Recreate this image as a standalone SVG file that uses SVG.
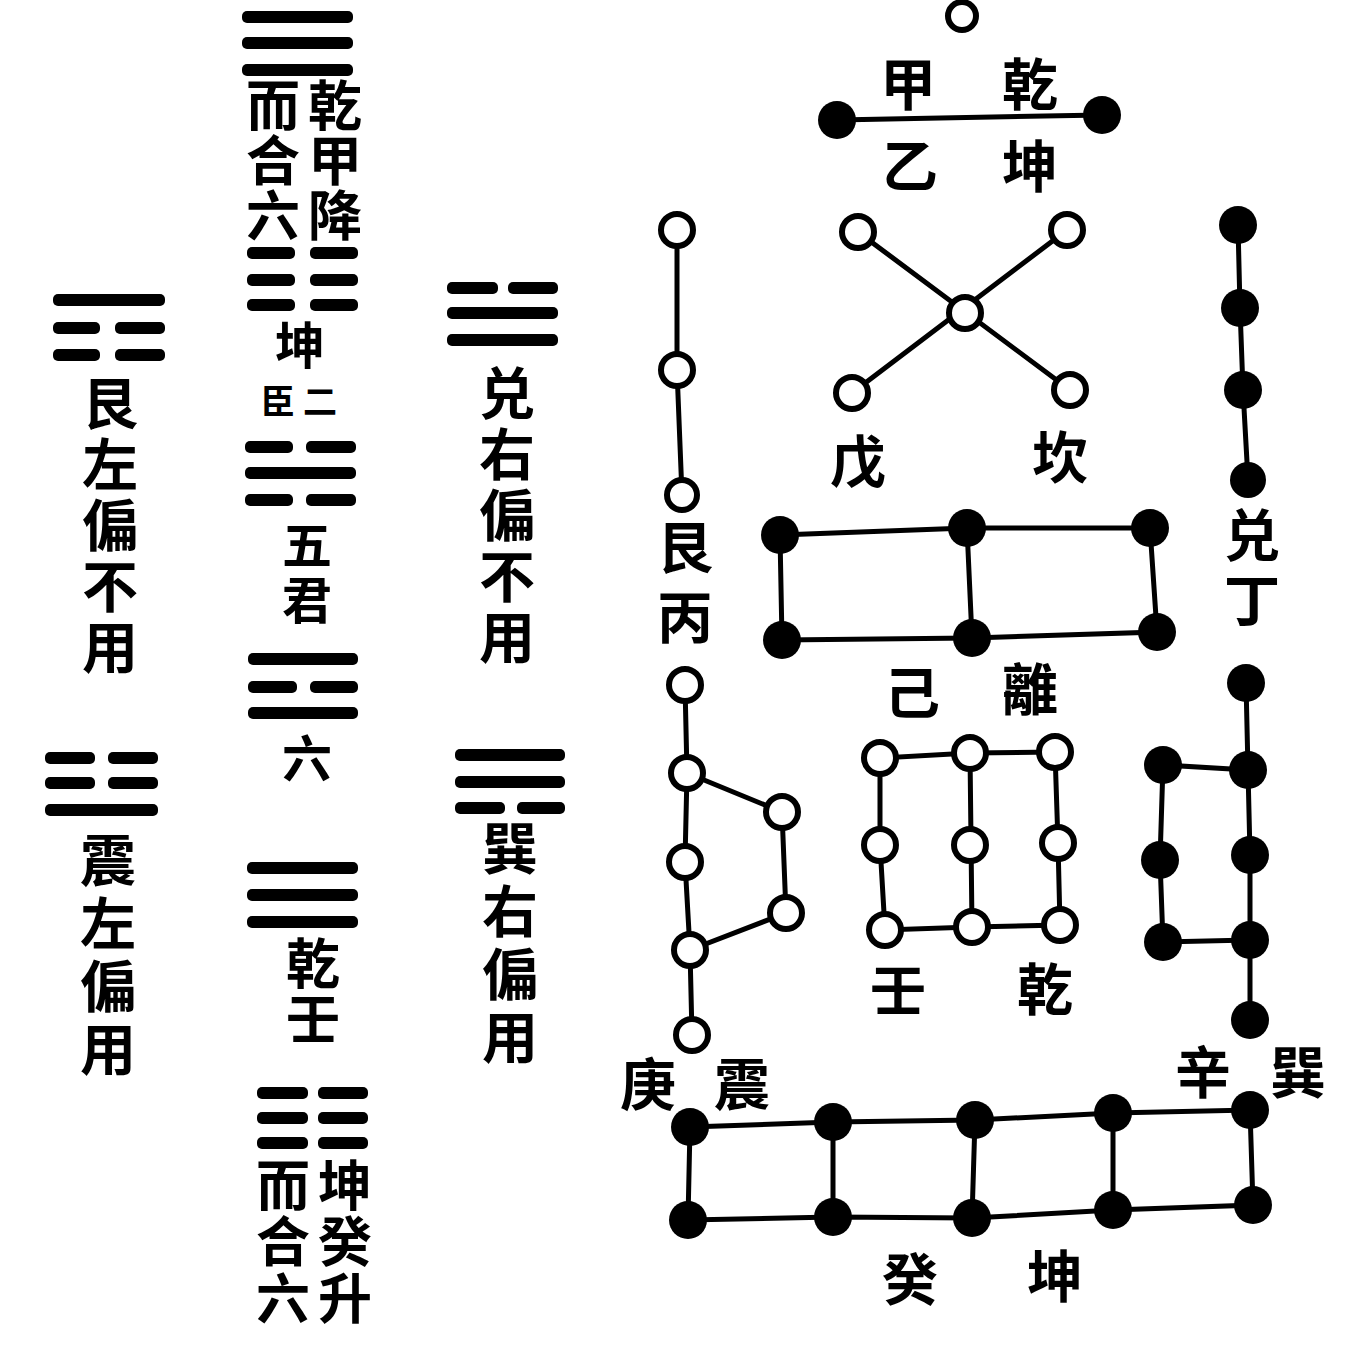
<svg xmlns="http://www.w3.org/2000/svg" width="1353" height="1368" viewBox="0 0 1353 1368">
<style>
.bg{fill:#fff}
.bar{fill:#000}
.edge{stroke:#000;stroke-width:5;fill:none;stroke-linecap:round}
.open{fill:#fff;stroke:#000;stroke-width:6}
.dot{fill:#000}
.t{font-family:"Noto Sans CJK TC","Noto Sans CJK SC",sans-serif;font-weight:700;text-anchor:middle;dominant-baseline:central;fill:#000}
.v{font-family:"Noto Sans CJK TC","Noto Sans CJK SC",sans-serif;font-weight:700;writing-mode:vertical-rl;text-anchor:start;dominant-baseline:central;fill:#000}
.l{font-size:56px}
.k{font-size:54px}
.m{font-size:50px}
.s{font-size:34px}
</style>
<rect class="bg" x="0" y="0" width="1353" height="1368"/>

<g id="col-mid-top">
  <rect class="bar" x="242" y="11" width="111" height="12" rx="5"/>
  <rect class="bar" x="242" y="37" width="111" height="12" rx="5"/>
  <rect class="bar" x="242" y="64" width="111" height="12" rx="5"/>
  <text class="v k" x="335" y="78" letter-spacing="1">乾甲降</text>
  <text class="v k" x="273" y="78" letter-spacing="1">而合六</text>
  <rect class="bar" x="247" y="247" width="48" height="12" rx="5"/>
  <rect class="bar" x="310" y="247" width="48" height="12" rx="5"/>
  <rect class="bar" x="247" y="274" width="48" height="12" rx="5"/>
  <rect class="bar" x="310" y="274" width="48" height="12" rx="5"/>
  <rect class="bar" x="247" y="299" width="48" height="12" rx="5"/>
  <rect class="bar" x="310" y="299" width="48" height="12" rx="5"/>
  <text class="t m" x="300" y="342">坤</text>
  <text class="t s" x="278" y="399">臣</text>
  <text class="t s" x="320" y="399">二</text>
</g>
<g id="col-mid-kan">
  <rect class="bar" x="245" y="441" width="48" height="12" rx="5"/>
  <rect class="bar" x="306" y="441" width="50" height="12" rx="5"/>
  <rect class="bar" x="245" y="467" width="111" height="12" rx="5"/>
  <rect class="bar" x="245" y="494" width="48" height="12" rx="5"/>
  <rect class="bar" x="306" y="494" width="50" height="12" rx="5"/>
  <text class="v m" x="307" y="520" letter-spacing="5">五君</text>
</g>
<g id="col-mid-li">
  <rect class="bar" x="248" y="653" width="110" height="12" rx="5"/>
  <rect class="bar" x="248" y="681" width="49" height="12" rx="5"/>
  <rect class="bar" x="310" y="681" width="48" height="12" rx="5"/>
  <rect class="bar" x="248" y="707" width="110" height="12" rx="5"/>
  <text class="t m" x="307" y="755">六</text>
</g>
<g id="col-mid-qian">
  <rect class="bar" x="247" y="862" width="111" height="12" rx="5"/>
  <rect class="bar" x="247" y="889" width="111" height="12" rx="5"/>
  <rect class="bar" x="247" y="916" width="111" height="12" rx="5"/>
  <text class="v k" x="313" y="936" letter-spacing="1">乾壬</text>
</g>
<g id="col-mid-bottom">
  <rect class="bar" x="257" y="1087" width="51" height="12" rx="5"/>
  <rect class="bar" x="318" y="1087" width="50" height="12" rx="5"/>
  <rect class="bar" x="257" y="1112" width="51" height="12" rx="5"/>
  <rect class="bar" x="318" y="1112" width="50" height="12" rx="5"/>
  <rect class="bar" x="257" y="1137" width="51" height="12" rx="5"/>
  <rect class="bar" x="318" y="1137" width="50" height="12" rx="5"/>
  <text class="v k" x="345" y="1158" letter-spacing="2.5">坤癸升</text>
  <text class="v k" x="283" y="1158" letter-spacing="2.5">而合六</text>
</g>
<g id="col-left-gen">
  <rect class="bar" x="53" y="294" width="112" height="12" rx="5"/>
  <rect class="bar" x="53" y="322" width="47" height="12" rx="5"/>
  <rect class="bar" x="115" y="322" width="50" height="12" rx="5"/>
  <rect class="bar" x="53" y="349" width="47" height="12" rx="5"/>
  <rect class="bar" x="115" y="349" width="50" height="12" rx="5"/>
  <text class="v l" x="110" y="375" letter-spacing="5">艮左偏不用</text>
</g>
<g id="col-left-zhen">
  <rect class="bar" x="45" y="752" width="50" height="12" rx="5"/>
  <rect class="bar" x="108" y="752" width="50" height="12" rx="5"/>
  <rect class="bar" x="45" y="777" width="50" height="12" rx="5"/>
  <rect class="bar" x="108" y="777" width="50" height="12" rx="5"/>
  <rect class="bar" x="45" y="804" width="113" height="12" rx="5"/>
  <text class="v l" x="108" y="832" letter-spacing="7">震左偏用</text>
</g>
<g id="col-right-dui">
  <rect class="bar" x="447" y="282" width="51" height="12" rx="5"/>
  <rect class="bar" x="508" y="282" width="50" height="12" rx="5"/>
  <rect class="bar" x="447" y="307" width="111" height="12" rx="5"/>
  <rect class="bar" x="447" y="334" width="111" height="12" rx="5"/>
  <text class="v l" x="507" y="365" letter-spacing="5">兑右偏不用</text>
</g>
<g id="col-right-xun">
  <rect class="bar" x="455" y="749" width="110" height="12" rx="5"/>
  <rect class="bar" x="455" y="776" width="110" height="12" rx="5"/>
  <rect class="bar" x="455" y="802" width="50" height="12" rx="5"/>
  <rect class="bar" x="517" y="802" width="48" height="12" rx="5"/>
  <text class="v l" x="510" y="820" letter-spacing="7">巽右偏用</text>
</g>

<g id="connectors">
  <line class="edge" x1="837" y1="120" x2="1102" y2="115"/>
  <line class="edge" x1="858" y1="232" x2="1070" y2="390"/>
  <line class="edge" x1="1067" y1="230" x2="852" y2="393"/>
  <polyline class="edge" points="677,230 677,370 682,495"/>
  <polyline class="edge" points="685,685 687,773 685,862 690,950 692,1035"/>
  <polyline class="edge" points="687,773 782,812 786,913 690,950"/>
  <polyline class="edge" points="1238,225 1240,308 1243,390 1248,480"/>
  <polyline class="edge" points="1246,683 1248,770 1250,855 1250,940 1250,1020"/>
  <polyline class="edge" points="1248,770 1163,765 1160,860 1163,942 1250,940"/>
  <polyline class="edge" points="780,535 967,528 1150,528 1157,632 972,638 782,640 780,535"/>
  <line class="edge" x1="967" y1="528" x2="972" y2="638"/>
  <polyline class="edge" points="880,845 880,758 970,753 1055,752 1058,843 1060,925 972,927 885,930 880,845"/>
  <line class="edge" x1="970" y1="753" x2="972" y2="927"/>
  <polyline class="edge" points="690,1127 833,1122 975,1120 1113,1113 1250,1110 1253,1205 1113,1210 972,1218 833,1217 688,1220 690,1127"/>
  <line class="edge" x1="833" y1="1122" x2="833" y2="1217"/>
  <line class="edge" x1="975" y1="1120" x2="972" y2="1218"/>
  <line class="edge" x1="1113" y1="1113" x2="1113" y2="1210"/>
</g>

<g id="node-top">
  <circle class="open" cx="962" cy="16" r="14"/>
  <text class="t l" x="908" y="80">甲</text>
  <text class="t l" x="1030" y="80">乾</text>
  <circle class="dot" cx="837" cy="120" r="19"/>
  <circle class="dot" cx="1102" cy="115" r="19"/>
  <text class="t l" x="910" y="162">乙</text>
  <text class="t l" x="1030" y="162">坤</text>
</g>
<g id="node-kan">
  <circle class="open" cx="858" cy="232" r="16"/>
  <circle class="open" cx="1067" cy="230" r="16"/>
  <circle class="open" cx="965" cy="313" r="16"/>
  <circle class="open" cx="852" cy="393" r="16"/>
  <circle class="open" cx="1070" cy="390" r="16"/>
  <text class="t l" x="858" y="457">戊</text>
  <text class="t l" x="1060" y="453">坎</text>
</g>
<g id="node-gen">
  <circle class="open" cx="677" cy="230" r="16"/>
  <circle class="open" cx="677" cy="370" r="16"/>
  <circle class="open" cx="682" cy="495" r="15"/>
  <text class="v l" x="685" y="519" letter-spacing="14">艮丙</text>
</g>
<g id="node-zhen">
  <circle class="open" cx="685" cy="685" r="16"/>
  <circle class="open" cx="687" cy="773" r="16"/>
  <circle class="open" cx="685" cy="862" r="16"/>
  <circle class="open" cx="690" cy="950" r="16"/>
  <circle class="open" cx="692" cy="1035" r="16"/>
  <circle class="open" cx="782" cy="812" r="16"/>
  <circle class="open" cx="786" cy="913" r="16"/>
  <text class="t l" x="648" y="1080">庚</text>
  <text class="t l" x="742" y="1080">震</text>
</g>
<g id="node-dui">
  <circle class="dot" cx="1238" cy="225" r="19"/>
  <circle class="dot" cx="1240" cy="308" r="19"/>
  <circle class="dot" cx="1243" cy="390" r="19"/>
  <circle class="dot" cx="1248" cy="480" r="18"/>
  <text class="v l" x="1252" y="507" letter-spacing="9">兑丁</text>
</g>
<g id="node-xun">
  <circle class="dot" cx="1246" cy="683" r="19"/>
  <circle class="dot" cx="1248" cy="770" r="19"/>
  <circle class="dot" cx="1250" cy="855" r="19"/>
  <circle class="dot" cx="1250" cy="940" r="19"/>
  <circle class="dot" cx="1250" cy="1020" r="19"/>
  <circle class="dot" cx="1163" cy="765" r="19"/>
  <circle class="dot" cx="1160" cy="860" r="19"/>
  <circle class="dot" cx="1163" cy="942" r="19"/>
  <text class="t l" x="1203" y="1068">辛</text>
  <text class="t l" x="1298" y="1068">巽</text>
</g>
<g id="node-li">
  <circle class="dot" cx="780" cy="535" r="19"/>
  <circle class="dot" cx="967" cy="528" r="19"/>
  <circle class="dot" cx="1150" cy="528" r="19"/>
  <circle class="dot" cx="782" cy="640" r="19"/>
  <circle class="dot" cx="972" cy="638" r="19"/>
  <circle class="dot" cx="1157" cy="632" r="19"/>
  <text class="t l" x="912" y="688">己</text>
  <text class="t l" x="1030" y="685">離</text>
</g>
<g id="node-qian">
  <circle class="open" cx="880" cy="758" r="16"/>
  <circle class="open" cx="970" cy="753" r="16"/>
  <circle class="open" cx="1055" cy="752" r="16"/>
  <circle class="open" cx="880" cy="845" r="16"/>
  <circle class="open" cx="970" cy="845" r="16"/>
  <circle class="open" cx="1058" cy="843" r="16"/>
  <circle class="open" cx="885" cy="930" r="16"/>
  <circle class="open" cx="972" cy="927" r="16"/>
  <circle class="open" cx="1060" cy="925" r="16"/>
  <text class="t l" x="898" y="985">壬</text>
  <text class="t l" x="1045" y="985">乾</text>
</g>
<g id="node-kun">
  <circle class="dot" cx="690" cy="1127" r="19"/>
  <circle class="dot" cx="833" cy="1122" r="19"/>
  <circle class="dot" cx="975" cy="1120" r="19"/>
  <circle class="dot" cx="1113" cy="1113" r="19"/>
  <circle class="dot" cx="1250" cy="1110" r="19"/>
  <circle class="dot" cx="688" cy="1220" r="19"/>
  <circle class="dot" cx="833" cy="1217" r="19"/>
  <circle class="dot" cx="972" cy="1218" r="19"/>
  <circle class="dot" cx="1113" cy="1210" r="19"/>
  <circle class="dot" cx="1253" cy="1205" r="19"/>
  <text class="t l" x="910" y="1275">癸</text>
  <text class="t l" x="1055" y="1272">坤</text>
</g>
</svg>
